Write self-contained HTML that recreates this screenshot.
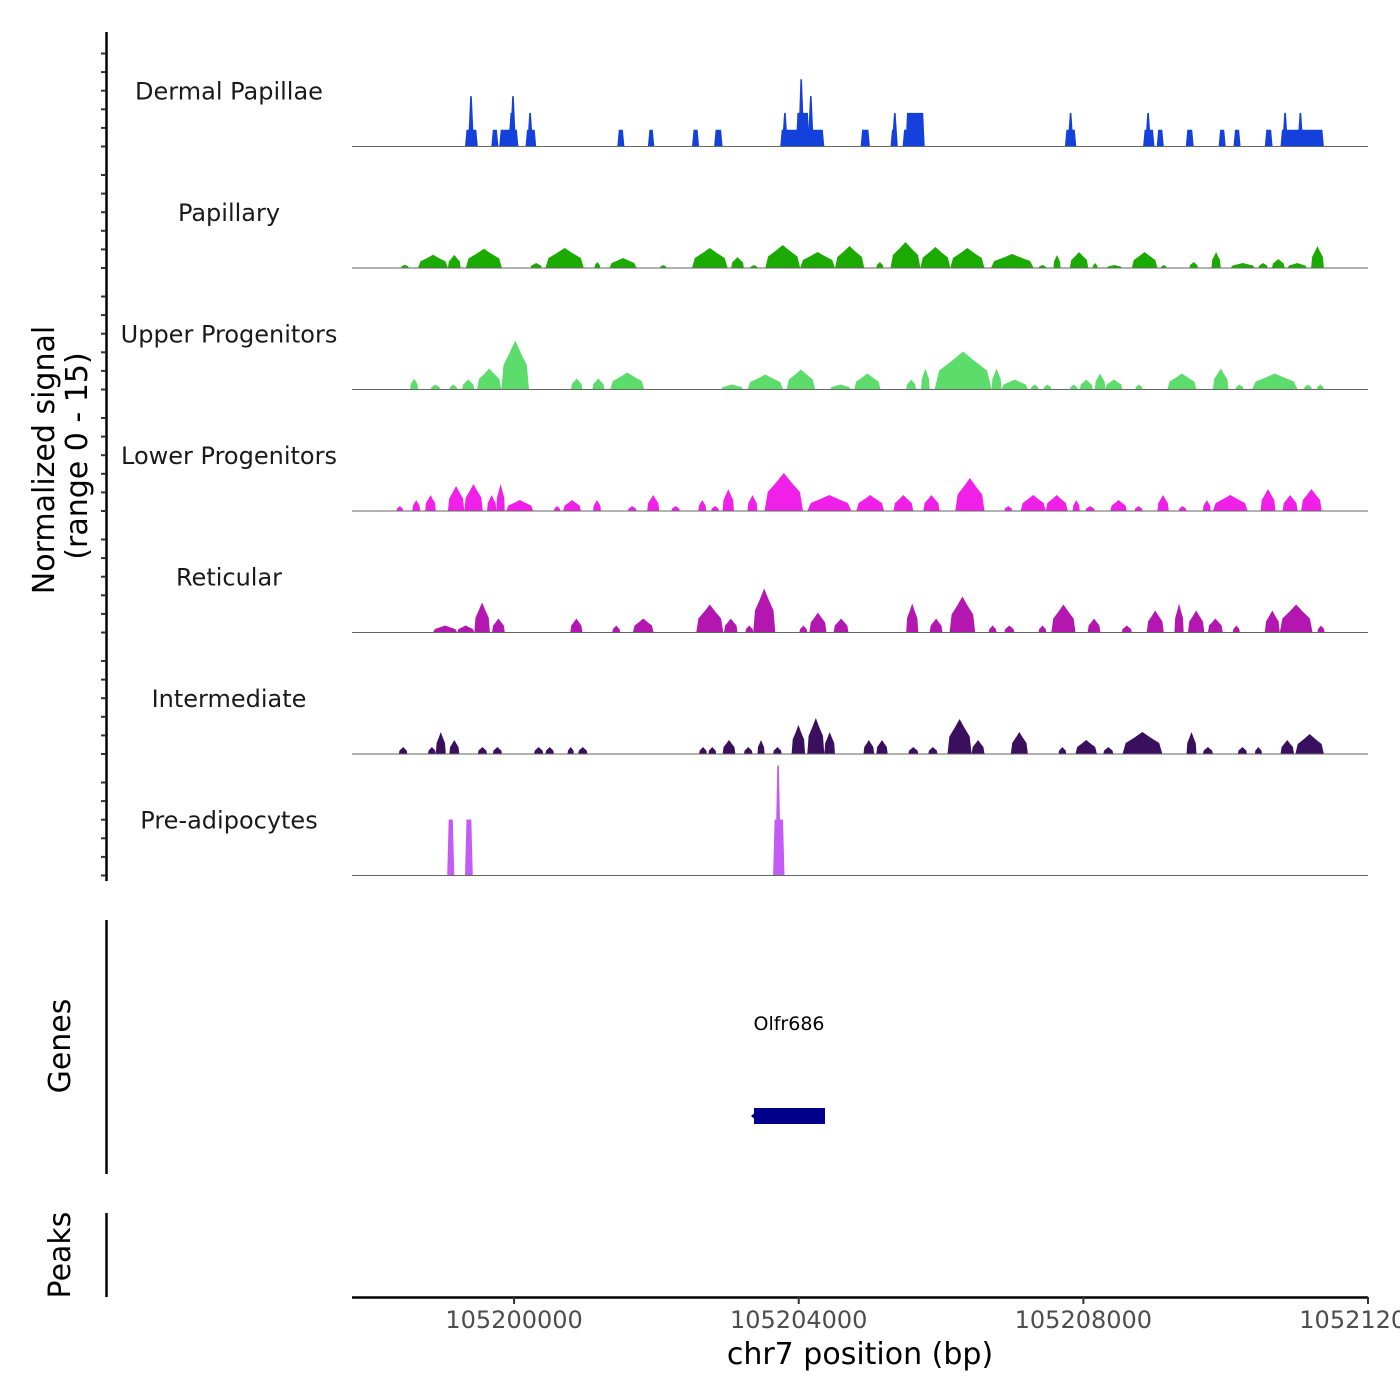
<!DOCTYPE html>
<html><head><meta charset="utf-8"><style>
html,body{margin:0;padding:0;background:#fff}
svg{display:block;font-family:"DejaVu Sans","Liberation Sans",sans-serif}
</style></head><body>
<svg id="chart" width="1400" height="1400" viewBox="0 0 1400 1400" xmlns="http://www.w3.org/2000/svg">
<g id="tracks"></g>
<g id="yaxis"></g>
<text x="54" y="460" font-size="30" text-anchor="middle" transform="rotate(-90 54 460)" fill="#000">Normalized signal</text>
<text x="87" y="456" font-size="30" text-anchor="middle" transform="rotate(-90 87 456)" fill="#000">(range 0 - 15)</text>
<line x1="106.5" y1="920" x2="106.5" y2="1174" stroke="#000" stroke-width="2.5"/>
<text x="70" y="1046" font-size="30" text-anchor="middle" transform="rotate(-90 70 1046)">Genes</text>
<text x="789" y="1030" font-size="19" text-anchor="middle" fill="#000">Olfr686</text>
<rect x="754" y="1108" width="71" height="16" fill="#00008b"/>
<path d="M757 1111 L751 1116 L757 1121 Z" fill="#00008b"/>
<line x1="106.5" y1="1213" x2="106.5" y2="1297" stroke="#000" stroke-width="2.5"/>
<text x="70" y="1255" font-size="30" text-anchor="middle" transform="rotate(-90 70 1255)">Peaks</text>
<g id="xaxis"></g>
<text x="860" y="1364" font-size="30" text-anchor="middle" fill="#000">chr7 position (bp)</text>
</svg>
<script>
// positions are kb offsets from 105,200,000 bp; [start, end, value]
const trackNames = ["Dermal Papillae","Papillary","Upper Progenitors","Lower Progenitors","Reticular","Intermediate","Pre-adipocytes"];
const trackColors = ["#1440db","#1aaa00","#5cdc6a","#f020e8","#b317b0","#3a0f5e","#c25cf5"];
const trackStyles = ["block","peak","peak","peak","peak","peak","block"];
const dermal = [[-0.69,-0.51,4.2],[-0.63,-0.58,8.4],[-0.62,-0.59,12.6],[-0.32,-0.22,4.2],[-0.21,0.06,4.2],[-0.08,0.0,8.4],[-0.03,0.0,12.6],[0.16,0.31,4.2],[0.20,0.25,8.4],[1.45,1.55,4.2],[1.88,1.97,4.2],[2.50,2.60,4.2],[2.81,2.93,4.2],[3.74,4.36,4.2],[3.77,3.84,8.4],[3.96,4.15,8.4],[4.00,4.08,12.6],[4.02,4.05,16.8],[4.13,4.21,12.6],[4.87,5.00,4.2],[5.29,5.39,4.2],[5.33,5.37,8.4],[5.46,5.77,4.2],[5.50,5.77,8.4],[7.74,7.90,4.2],[7.79,7.85,8.4],[8.84,9.00,4.2],[8.89,8.93,8.4],[9.03,9.13,4.2],[9.44,9.55,4.2],[9.90,10.00,4.2],[10.11,10.21,4.2],[10.55,10.66,4.2],[10.77,11.38,4.2],[10.80,10.87,8.4],[11.01,11.09,8.4]];
const papillary = [[-1.59,-1.48,0.85],[-1.35,-0.93,3.3],[-0.93,-0.75,3.3],[-0.68,-0.17,4.8],[0.23,0.39,1.25],[0.44,0.98,5],[1.13,1.21,1.5],[1.34,1.72,2.5],[2.05,2.14,0.75],[2.50,3.00,5],[3.05,3.23,2.75],[3.32,3.42,0.75],[3.53,4.02,5.75],[4.02,4.51,4],[4.51,4.92,5.5],[5.09,5.19,1.5],[5.29,5.71,6.5],[5.71,6.13,5.25],[6.13,6.61,5],[6.70,7.30,3.5],[7.37,7.48,0.75],[7.58,7.68,3.25],[7.81,8.07,4],[8.13,8.20,1.25],[8.33,8.54,0.75],[8.68,9.04,4],[9.09,9.17,0.75],[9.49,9.61,1.5],[9.80,9.93,4],[10.07,10.41,1.25],[10.46,10.59,1.25],[10.65,10.83,2.25],[10.87,11.14,1.25],[11.20,11.38,5.5]];
const upper = [[-1.46,-1.35,2.75],[-1.17,-1.04,1.25],[-0.91,-0.80,1.25],[-0.73,-0.56,2.5],[-0.52,-0.18,5.25],[-0.18,0.21,12.25],[0.80,0.96,2.75],[1.10,1.27,2.75],[1.35,1.83,4.25],[2.91,3.22,1.25],[3.28,3.78,3.75],[3.83,4.23,5],[4.44,4.73,1.25],[4.78,5.15,4],[5.51,5.65,2.5],[5.72,5.84,5.25],[5.91,6.71,9.5],[6.71,6.85,5.25],[6.85,7.22,2.5],[7.26,7.37,1.25],[7.44,7.55,1.25],[7.81,7.92,1.25],[7.95,8.13,2.5],[8.16,8.31,4],[8.31,8.55,2.5],[8.73,8.83,1.25],[9.18,9.59,4],[9.82,10.04,5.25],[10.14,10.25,1.25],[10.37,11.01,4],[11.10,11.21,1.25],[11.28,11.38,1.25]];
const lower = [[-1.65,-1.56,1.25],[-1.43,-1.32,2.75],[-1.25,-1.10,4],[-0.93,-0.70,6.25],[-0.70,-0.44,6.75],[-0.38,-0.25,4],[-0.25,-0.13,6.75],[-0.11,0.27,2.75],[0.56,0.65,1.25],[0.69,0.94,2.75],[1.11,1.22,2.75],[1.60,1.72,1.25],[1.87,2.04,4],[2.21,2.33,1.25],[2.59,2.70,2.75],[2.77,2.88,1.25],[2.93,3.09,5.5],[3.28,3.42,4],[3.52,4.06,9.5],[4.12,4.74,4],[4.81,5.20,4],[5.33,5.61,4],[5.75,5.98,4],[6.20,6.61,8.25],[6.89,7.00,1.25],[7.12,7.47,4],[7.47,7.78,4],[7.85,7.95,2.75],[8.03,8.16,1.25],[8.38,8.61,2.75],[8.72,8.83,1.25],[9.04,9.20,4],[9.34,9.45,1.25],[9.68,9.79,2.75],[9.82,10.31,4],[10.49,10.70,5.5],[10.80,11.01,4],[11.06,11.35,5.5]];
const reticular = [[-1.14,-0.80,1.75],[-0.80,-0.56,1.75],[-0.56,-0.34,7.5],[-0.31,-0.13,3.5],[0.79,0.96,3.5],[1.38,1.49,1.75],[1.67,1.96,3.5],[2.56,2.94,7],[2.95,3.14,3.5],[3.25,3.36,1.75],[3.36,3.67,11],[4.01,4.12,1.75],[4.15,4.39,5],[4.49,4.70,3.5],[5.51,5.68,7.25],[5.84,6.02,3.5],[6.12,6.48,9],[6.67,6.78,1.75],[6.89,7.03,1.75],[7.37,7.48,1.75],[7.55,7.89,7],[8.06,8.24,3.5],[8.54,8.68,1.75],[8.89,9.13,5.5],[9.28,9.41,7.25],[9.47,9.70,5.5],[9.75,9.96,3.5],[10.10,10.20,1.75],[10.55,10.76,5.5],[10.76,11.22,7],[11.29,11.39,1.75]];
const intermediate = [[-1.62,-1.50,1.75],[-1.21,-1.10,1.75],[-1.10,-0.96,5.5],[-0.91,-0.77,3.5],[-0.51,-0.38,1.75],[-0.30,-0.17,1.75],[0.28,0.41,1.75],[0.44,0.56,1.75],[0.75,0.84,1.75],[0.90,1.03,1.75],[2.60,2.71,1.75],[2.73,2.84,1.75],[2.93,3.11,3.5],[3.23,3.35,1.75],[3.42,3.52,3.5],[3.64,3.76,1.75],[3.90,4.09,7.25],[4.12,4.36,9],[4.36,4.51,5.5],[4.91,5.06,3.5],[5.09,5.25,3.5],[5.54,5.68,1.75],[5.82,5.95,1.75],[6.09,6.43,8.75],[6.43,6.61,3.5],[6.98,7.22,5.5],[7.65,7.76,1.75],[7.89,8.19,3.5],[8.28,8.42,1.75],[8.55,9.11,5.5],[9.45,9.59,5.5],[9.68,9.82,1.75],[10.17,10.30,1.75],[10.41,10.51,1.75],[10.77,10.96,3.5],[10.98,11.38,5]];
const preadipo = [[-0.94,-0.84,14],[-0.69,-0.58,14],[3.64,3.80,14],[3.68,3.74,27.5]];
const trackData = [dermal,papillary,upper,lower,reticular,intermediate,preadipo];
const xTickValues = [105200000,105204000,105208000,105212000];
const xTickLabels = ["105200000","105204000","105208000","105212000"];

const NS="http://www.w3.org/2000/svg";
const X0=352, X1=1368, BP0=105197722, BP1=105212000;
function xScale(bp){return X0+(bp-BP0)/(BP1-BP0)*(X1-X0);}
function xKb(kb){return xScale(105200000+kb*1000);}
const unitPx=4, trackH=121.5, firstBase=146.5;
function baseY(i){return firstBase+i*trackH;}
function yScale(i,v){return baseY(i)-v*unitPx;}
function mk(tag,attrs,parent){const e=document.createElementNS(NS,tag);for(const k in attrs)e.setAttribute(k,attrs[k]);parent.appendChild(e);return e;}

const tracks=document.getElementById('tracks');
trackData.forEach((arr,i)=>{
  const g=mk('g',{},tracks);
  
  
  const lab=mk('text',{x:229,y:baseY(i)-47,'font-size':24,'text-anchor':'middle',fill:'#1a1a1a'},g);
  lab.textContent=trackNames[i];
  
  
  arr.forEach(p=>{
    let s=xKb(p[0]), e=xKb(p[1]);
    const b=baseY(i), t=yScale(i,p[2]);
    let w=e-s; const h=b-t;
    let pts;
    if(trackStyles[i]==='block'){
      if(w<6){const m=(s+e)/2; s=m-3; e=m+3; pts=[[s,b],[m-0.8,t],[m+0.8,t],[e,b]];}
      else {const d=Math.min(1.5,w/4); pts=[[s,b],[s+d,t],[e-d,t],[e,b]];}
    } else {
      pts=[[s,b],[s+0.08*w,b-0.5*h],[s+0.3*w,b-0.75*h],[s+0.5*w,t],[e-0.3*w,b-0.75*h],[e-0.08*w,b-0.5*h],[e,b]];
    }
    const poly=mk('polygon',{points:pts.map(q=>q[0].toFixed(1)+','+q[1].toFixed(1)).join(' '),fill:trackColors[i]},g);
    
    
  });
  const bl=mk('line',{x1:X0,x2:X1,y1:baseY(i),y2:baseY(i),stroke:'#666',"stroke-width":1},g);
  
  
});

const ya=document.getElementById('yaxis');
const yl=mk('line',{x1:106.5,x2:106.5,y1:32,y2:881,stroke:'#000','stroke-width':2.5},ya);


for(let i=0;i<7;i++){
  for(let j=0;j<6;j++){
    const y=baseY(i)-j*18.6;
    const tk=mk('line',{x1:101,x2:106,y1:y,y2:y,stroke:'#333','stroke-width':2},ya);
    
    
  }
}
const xa=document.getElementById('xaxis');
const xl=mk('line',{x1:X0,x2:X1,y1:1297.5,y2:1297.5,stroke:'#000','stroke-width':2.5},xa);


xTickValues.forEach((v,k)=>{
  const x=xScale(v);
  const tk=mk('line',{x1:x,x2:x,y1:1297,y2:1304,stroke:'#333','stroke-width':2},xa);
  
  
  const t=mk('text',{x:x,y:1328,'font-size':24,'text-anchor':'middle',fill:'#4d4d4d'},xa);
  t.textContent=xTickLabels[k];
  
  
});
</script>
</body></html>
